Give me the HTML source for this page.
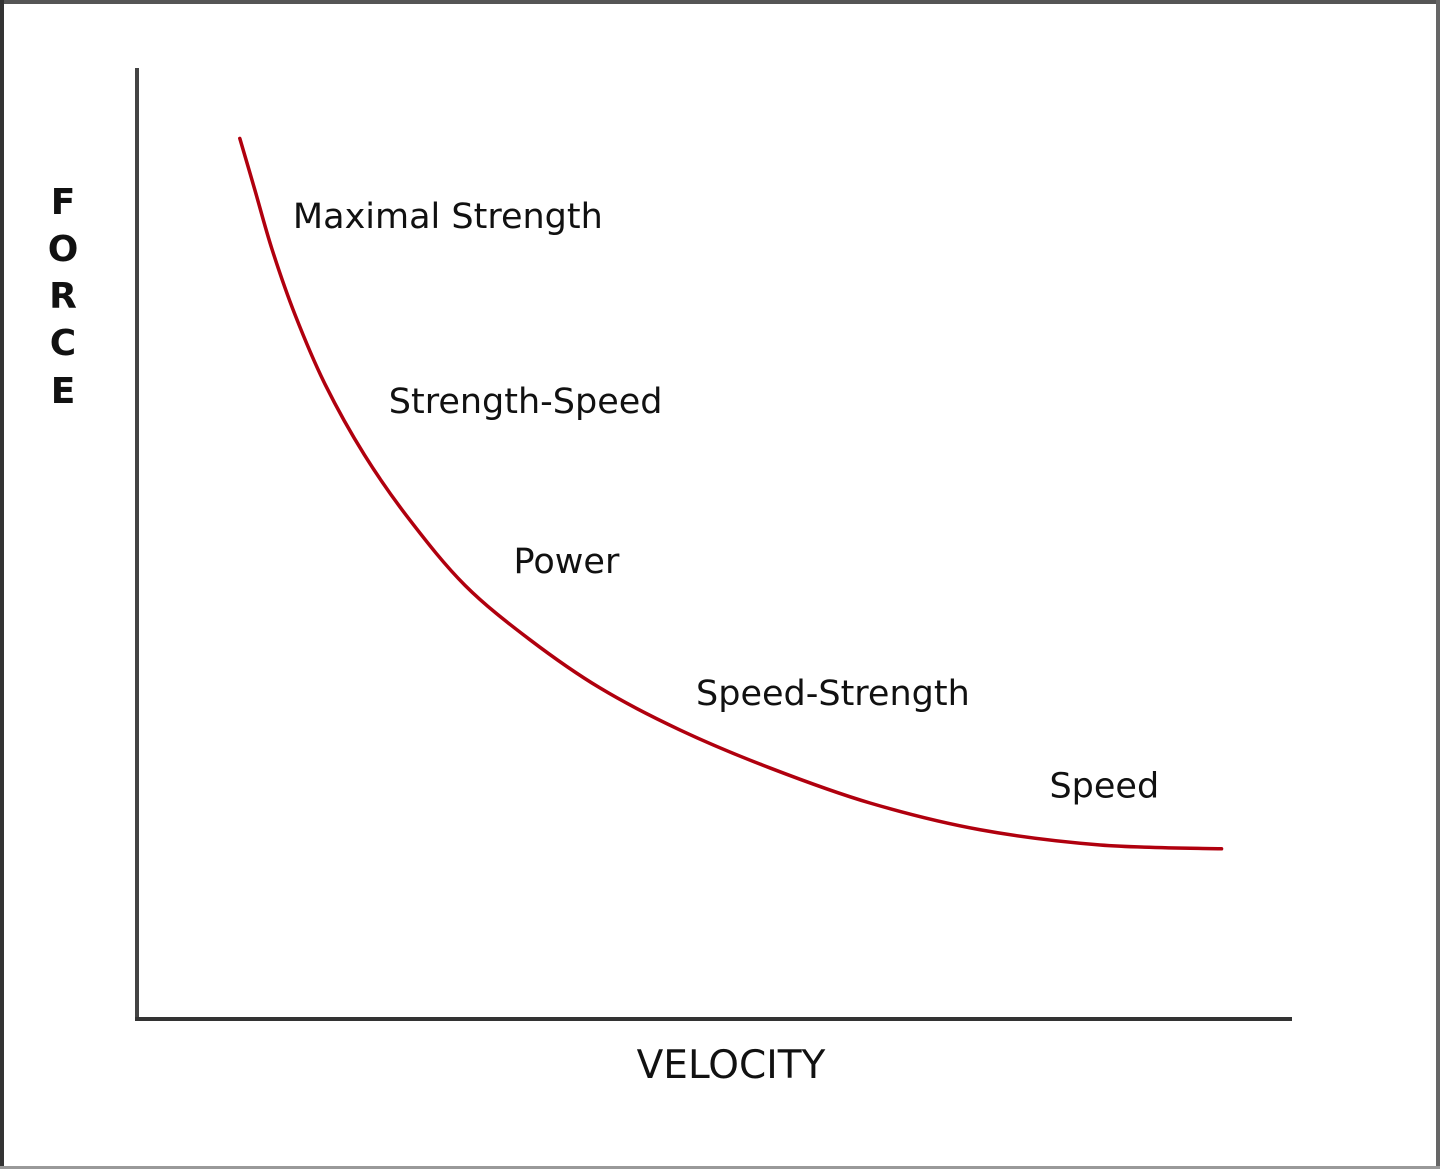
<!DOCTYPE html>
<html><head><meta charset="utf-8"><style>
html,body{margin:0;padding:0;background:#fff}
svg{display:block}
text{font-family:"DejaVu Sans","Liberation Sans",sans-serif;fill:#111}
</style></head><body>
<svg id="chart" width="1440" height="1169" viewBox="0 0 1440 1169" xmlns="http://www.w3.org/2000/svg">
<rect x="0" y="0" width="1440" height="1169" fill="#fff"/>
<rect x="0" y="0" width="1440" height="4" fill="#555"/>
<rect x="0" y="0" width="4" height="1169" fill="#333"/>
<rect x="1436" y="0" width="4" height="1169" fill="#666"/>
<rect x="0" y="1166" width="1440" height="3" fill="#999"/>
<line x1="137" y1="68" x2="137" y2="1021" stroke="#444" stroke-width="4"/>
<line x1="135" y1="1019" x2="1292" y2="1019" stroke="#333" stroke-width="4"/>
<g font-size="36" font-weight="bold">
<text x="63" y="214" text-anchor="middle">F</text>
<text x="63" y="261" text-anchor="middle">O</text>
<text x="63" y="308" text-anchor="middle">R</text>
<text x="63" y="355" text-anchor="middle">C</text>
<text x="63" y="403" text-anchor="middle">E</text>
</g>
<text x="731" y="1078" font-size="39" text-anchor="middle">VELOCITY</text>
<path id="curve" fill="none" stroke="#b0000e" stroke-width="3.5" stroke-linecap="round"/>
<g id="labels" font-size="35"></g>
</svg>
<script>
const velocity = [8.9, 10.2, 11.7, 13.7, 16.3, 19.7, 23.6, 28.4, 34.0, 40.1, 47.0, 54.8, 63.5, 73.0, 83.4, 93.9];
const force = [92.6, 87.2, 80.9, 74.0, 66.7, 59.3, 52.5, 45.6, 39.9, 34.8, 30.4, 26.4, 22.7, 19.9, 18.3, 17.9];
const zoneNames = ["Maximal Strength", "Strength-Speed", "Power", "Speed-Strength", "Speed"];
const zoneVelocity = [13.5, 21.8, 32.6, 48.4, 79.0];
const zoneForce = [83.2, 63.7, 46.9, 33.0, 23.3];

function xs(v){ return 137 + v / 100 * 1155; }
function ys(f){ return 1019 - f / 100 * 951; }

const pts = velocity.map((v,i)=>[xs(v), ys(force[i])]);
let d = "M" + pts[0][0] + "," + pts[0][1];
for (let i = 0; i < pts.length - 1; i++) {
  const p0 = pts[Math.max(0,i-1)], p1 = pts[i], p2 = pts[i+1], p3 = pts[Math.min(pts.length-1,i+2)];
  const c1 = [p1[0] + (p2[0]-p0[0])/6, p1[1] + (p2[1]-p0[1])/6];
  const c2 = [p2[0] - (p3[0]-p1[0])/6, p2[1] - (p3[1]-p1[1])/6];
  d += " C" + c1[0] + "," + c1[1] + " " + c2[0] + "," + c2[1] + " " + p2[0] + "," + p2[1];
}
document.getElementById("curve").setAttribute("d", d);

const g = document.getElementById("labels");
zoneNames.forEach((n,i)=>{
  const t = document.createElementNS("http://www.w3.org/2000/svg","text");
  t.setAttribute("x", xs(zoneVelocity[i]));
  t.setAttribute("y", ys(zoneForce[i]));
  t.textContent = n;
  
  
  g.appendChild(t);
});
</script>
</body></html>
